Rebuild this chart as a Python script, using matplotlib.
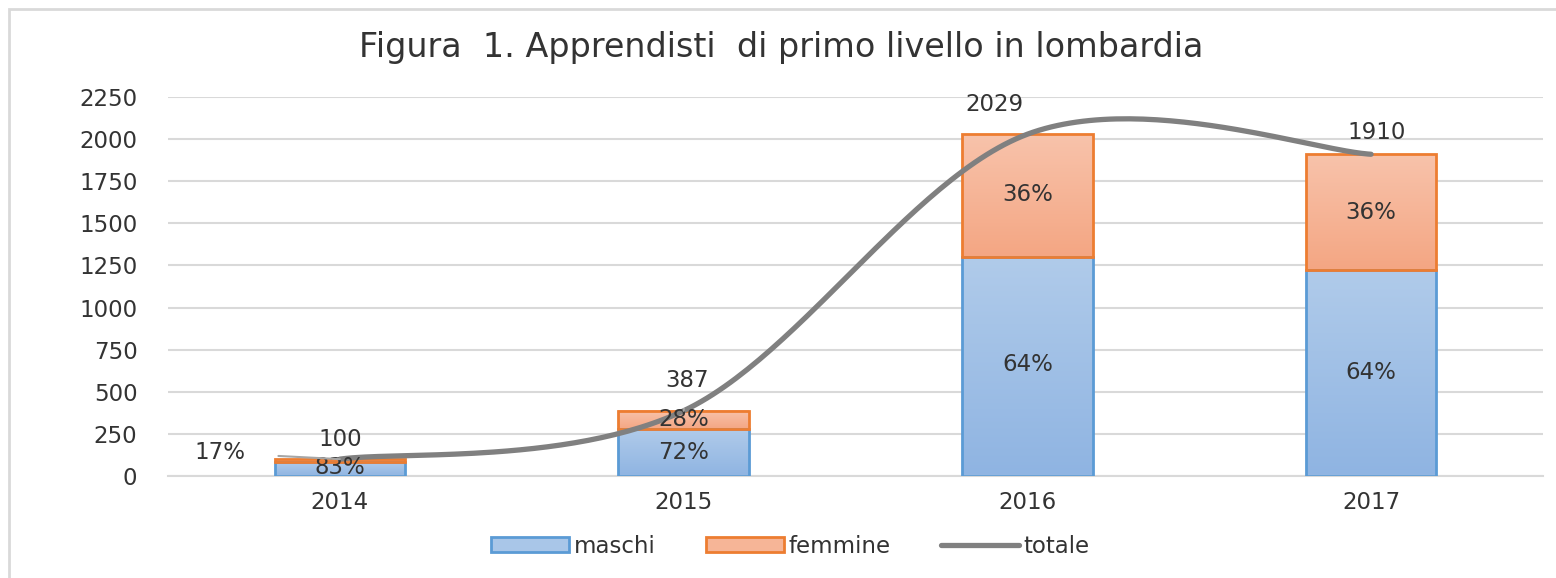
#!/usr/bin/env python3
# -*- coding: utf-8 -*-

import numpy as np
import matplotlib
matplotlib.use('Agg')
import matplotlib.pyplot as plt
from matplotlib.patches import Rectangle
from matplotlib.lines import Line2D

plt.rcParams['font.family'] = ['DejaVu Sans']

anni = ['2014', '2015', '2016', '2017']
maschi = [83, 279, 1299, 1222]
femmine = [17, 108, 730, 688]
totale = [100, 387, 2029, 1910]
perc_maschi = ['83%', '72%', '64%', '64%']
perc_femmine = ['17%', '28%', '36%', '36%']

TXT = '#333333'
GRID = '#d9d9d9'
BLU_EDGE = '#5b9bd5'
ARA_EDGE = '#ed7d31'


def smooth_curve(xs, ys, n=60):
    # bezier smoothing like excel (catmull-rom)
    p = np.column_stack([xs, ys]).astype(float)
    pts = []
    for i in range(len(p) - 1):
        p0 = p[i - 1] if i > 0 else p[i]
        p3 = p[i + 2] if i + 2 < len(p) else p[i + 1]
        c1 = p[i] + (p[i + 1] - p0) / 6
        c2 = p[i + 1] - (p3 - p[i]) / 6
        t = np.linspace(0, 1, n)[:, None]
        seg = ((1 - t) ** 3) * p[i] + 3 * ((1 - t) ** 2) * t * c1 \
            + 3 * (1 - t) * t ** 2 * c2 + t ** 3 * p[i + 1]
        pts.append(seg)
    pts = np.vstack(pts)
    return pts[:, 0], pts[:, 1]


def gradient_bar(ax, x, bottom, height, width, c_top, c_bot, edge):
    grad = np.linspace(0, 1, 100)[:, None]
    ct = np.array(matplotlib.colors.to_rgb(c_top))
    cb = np.array(matplotlib.colors.to_rgb(c_bot))
    img = ct[None, None, :] * (1 - grad[:, :, None]) + cb[None, None, :] * grad[:, :, None]
    ax.imshow(img, extent=(x - width / 2, x + width / 2, bottom, bottom + height),
              aspect='auto', origin='upper', zorder=2, interpolation='bilinear')
    ax.add_patch(Rectangle((x - width / 2, bottom), width, height, fill=False,
                           edgecolor=edge, linewidth=2, zorder=3))


fig = plt.figure(figsize=(15.56, 5.78), dpi=100)
ax = fig.add_axes([0.108, 0.1765, 0.8836, 0.6557])

x = np.arange(len(anni))
w = 0.38
for i in range(len(anni)):
    gradient_bar(ax, x[i], 0, maschi[i], w, '#b0cbea', '#8fb4e2', BLU_EDGE)
    gradient_bar(ax, x[i], maschi[i], femmine[i], w, '#f8c3ab', '#f4a683', ARA_EDGE)

sx, sy = smooth_curve(x, totale)
ax.plot(sx, sy, color='#808080', linewidth=3.8, solid_capstyle='round', zorder=4)

fs = 16.5

ax.set_xlim(-0.5, 3.5)
ax.set_ylim(0, 2250)
ax.set_yticks(np.arange(0, 2251, 250))
ax.set_xticks(x)
ax.set_xticklabels(anni)
ax.yaxis.grid(True, color=GRID, linewidth=1.5, zorder=0)
ax.set_axisbelow(True)
for s in ['top', 'right', 'left']:
    ax.spines[s].set_visible(False)
ax.spines['bottom'].set_color(GRID)
ax.spines['bottom'].set_linewidth(1.5)
ax.tick_params(length=0, labelsize=fs, labelcolor=TXT)
ax.tick_params(axis='y', pad=22)
ax.tick_params(axis='x', pad=11)

# etichette percentuali
ax.text(x[0], 50, perc_maschi[0], ha='center', va='center', fontsize=fs, color=TXT, zorder=5)
ax.annotate(perc_femmine[0], xy=(x[0], totale[0]), xytext=(-0.35, 137),
            ha='center', va='center', fontsize=fs, color=TXT, zorder=5,
            arrowprops=dict(arrowstyle='-', color='#a6a6a6', lw=1.5,
                            shrinkA=22, shrinkB=0))
ax.text(x[0], 215, str(totale[0]), ha='center', va='center', fontsize=fs, color=TXT, zorder=5)

ax.text(x[1], 137, perc_maschi[1], ha='center', va='center', fontsize=fs, color=TXT, zorder=5)
ax.text(x[1], 333, perc_femmine[1], ha='center', va='center', fontsize=fs, color=TXT, zorder=5)
ax.annotate(str(totale[1]), xy=(x[1], totale[1]), xytext=(x[1] + 0.01, 565),
            ha='center', va='center', fontsize=fs, color=TXT, zorder=5,
            arrowprops=dict(arrowstyle='-', color='#a6a6a6', lw=1.5,
                            shrinkA=10, shrinkB=0))

ax.text(x[2], 660, perc_maschi[2], ha='center', va='center', fontsize=fs, color=TXT, zorder=5)
ax.text(x[2], 1670, perc_femmine[2], ha='center', va='center', fontsize=fs, color=TXT, zorder=5)
ax.text(x[2] - 0.095, 2205, str(totale[2]), ha='center', va='center', fontsize=fs, color=TXT, zorder=5)

ax.text(x[3], 612, perc_maschi[3], ha='center', va='center', fontsize=fs, color=TXT, zorder=5)
ax.text(x[3], 1565, perc_femmine[3], ha='center', va='center', fontsize=fs, color=TXT, zorder=5)
ax.text(x[3] + 0.015, 2040, str(totale[3]), ha='center', va='center', fontsize=fs, color=TXT, zorder=5)

fig.text(0.502, 0.918, 'Figura  1. Apprendisti  di primo livello in lombardia',
         ha='center', va='center', fontsize=24, color=TXT)

handles = [Rectangle((0, 0), 1, 1, facecolor='#a9c6e8', edgecolor=BLU_EDGE, linewidth=2),
           Rectangle((0, 0), 1, 1, facecolor='#f6b597', edgecolor=ARA_EDGE, linewidth=2),
           Line2D([0], [0], color='#808080', linewidth=3.8, solid_capstyle='round')]
fig.legend(handles, ['maschi', 'femmine', 'totale'], loc='center',
           bbox_to_anchor=(0.508, 0.055), ncol=3, frameon=False, fontsize=fs,
           handlelength=3.4, handleheight=0.6, handletextpad=0.2, columnspacing=2.2,
           labelcolor=TXT)

# cornice del grafico
fig.patches.append(Rectangle((9 / 1556, -0.5), 3, 1.5 - 9 / 578,
                             transform=fig.transFigure, fill=False,
                             edgecolor=GRID, linewidth=2))

fig.savefig('out.png', dpi=100)
